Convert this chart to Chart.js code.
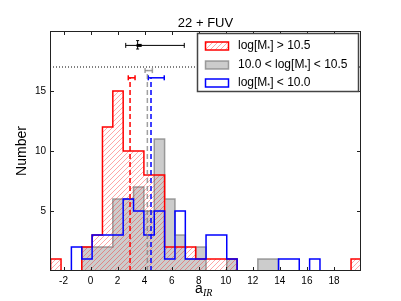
<!DOCTYPE html>
<html>
<head>
<meta charset="utf-8">
<script src="https://cdn.jsdelivr.net/npm/chart.js@4"></script>
<style>
  body { margin: 0; background: #fff; }
</style>
</head>
<body>
<canvas id="histChart" width="401" height="301"></canvas>
<script>
// histogram bins (same edges for all three samples)
const binStart = -2.95;
const binWidth = 0.766;

// counts per bin
const countsHigh = [1, 0, 0, 2, 3, 12, 15, 10, 10, 8, 8, 2, 2, 2, 1, 1, 1, 1, 0, 0, 0, 0, 0, 0, 0, 0, 0, 0, 0, 1];
const countsMid = [0, 0, 0, 2, 2, 2, 6, 6, 7, 5, 11, 6, 3, 1, 2, 0, 0, 1, 0, 0, 1, 1, 0, 0, 0, 0, 0, 0, 0, 0];
const countsLow = [0, 0, 2, 1, 3, 3, 3, 6, 5, 3, 5, 1, 5, 1, 1, 3, 3, 1, 0, 0, 0, 0, 1, 1, 0, 1, 0, 0, 0, 0];

// medians with errors: [high, mid, low]
const medians = [2.92, 4.2, 4.47];
const medianLo = [2.79, 4.03, 4.27];
const medianHi = [3.29, 4.57, 5.45];
const medianY = [16.1, 16.7, 16.1];

// black point
const refX = 3.48;
const refY = 18.8;
const refXLo = 2.6;
const refXHi = 6.93;
const refYLo = 18.5;
const refYHi = 19.2;
const refBarLo = 3.4;
const refBarHi = 3.78;

const dottedY = 17;

const xTickValues = [-2, 0, 2, 4, 6, 8, 10, 12, 14, 16, 18];
const yTickValues = [5, 10, 15];

const legendLabels = [
  ['log[M', '*', '] > 10.5'],
  ['10.0 < log[M', '*', '] < 10.5'],
  ['log[M', '*', '] < 10.0']
];

const FONT = "'Liberation Sans', Arial, sans-serif";

function stepPoints(counts) {
  const pts = [{ x: binStart, y: 0 }];
  counts.forEach((c, i) => pts.push({ x: binStart + i * binWidth, y: c }));
  const end = binStart + counts.length * binWidth;
  pts.push({ x: end, y: counts[counts.length - 1] });
  pts.push({ x: end, y: 0 });
  return pts;
}

function hatch() {
  const c = document.createElement('canvas');
  c.width = 5;
  c.height = 5;
  const g = c.getContext('2d');
  g.strokeStyle = 'rgba(255,0,0,0.35)';
  g.lineWidth = 1;
  g.beginPath();
  g.moveTo(0, 5); g.lineTo(5, 0);
  g.moveTo(-1, 1); g.lineTo(1, -1);
  g.moveTo(4, 6); g.lineTo(6, 4);
  g.stroke();
  return g.createPattern(c, 'repeat');
}
const redHatch = hatch();

const colors = ['#ff0000', 'rgba(128,128,128,0.75)', '#0000ff'];

const datasets = [];

// histograms: blue on top, then red, gray at the bottom
datasets.push({
  data: stepPoints(countsLow), stepped: 'before', borderColor: '#0000ff',
  borderWidth: 1.5, fill: false, pointRadius: 0, order: 1
});
datasets.push({
  data: stepPoints(countsHigh), stepped: 'before', borderColor: '#ff0000',
  borderWidth: 1.5, fill: 'origin', backgroundColor: redHatch, pointRadius: 0, order: 2
});
datasets.push({
  data: stepPoints(countsMid), stepped: 'before', borderColor: 'rgba(128,128,128,0.75)',
  borderWidth: 1.5, fill: 'origin', backgroundColor: 'rgba(128,128,128,0.4)', pointRadius: 0, order: 3
});

// median dashed lines and error bars
medians.forEach((m, i) => {
  datasets.push({
    data: [{ x: m, y: 0 }, { x: m, y: medianY[i] }],
    borderColor: colors[i], borderWidth: 1.5, borderDash: [5, 3],
    pointRadius: 0, fill: false, order: 0
  });
  datasets.push({
    data: [{ x: medianLo[i], y: medianY[i] }, { x: medianHi[i], y: medianY[i] }],
    borderColor: colors[i], borderWidth: 1.5, fill: false, order: 0,
    pointStyle: 'line', rotation: 90, pointRadius: 2.5,
    pointBorderColor: colors[i], pointBorderWidth: 1.5
  });
});

// black reference point
datasets.push({
  data: [{ x: refXLo, y: refY }, { x: refXHi, y: refY }],
  borderColor: '#000', borderWidth: 1, fill: false, order: 0,
  pointStyle: 'line', rotation: 90, pointRadius: 2.5,
  pointBorderColor: '#000', pointBorderWidth: 1
});
datasets.push({
  data: [{ x: refX, y: refYLo }, { x: refX, y: refYHi }],
  borderColor: '#000', borderWidth: 1, fill: false, order: 0,
  pointStyle: 'line', rotation: 0, pointRadius: 1.5,
  pointBorderColor: '#000', pointBorderWidth: 1
});
datasets.push({
  data: [{ x: refBarLo, y: refY }, { x: refBarHi, y: refY }],
  borderColor: '#000', borderWidth: 3, fill: false, order: 0, pointRadius: 0
});

// dotted line
datasets.push({
  data: [{ x: -3, y: dottedY }, { x: 20, y: dottedY }],
  borderColor: '#000', borderWidth: 1, borderDash: [1, 2],
  fill: false, pointRadius: 0, order: 0
});

function drawRich(ctx, parts, x, y, size) {
  ctx.textBaseline = 'middle';
  ctx.textAlign = 'left';
  parts.forEach((p, k) => {
    if (k === 1) {
      ctx.font = (size * 0.6) + 'px ' + FONT;
      ctx.fillText(p, x, y + 3);
    } else {
      ctx.font = size + 'px ' + FONT;
      ctx.fillText(p, x, y);
    }
    x += ctx.measureText(p).width;
  });
}

const decorPlugin = {
  id: 'decor',
  afterDatasetsDraw(chart) {
    const ctx = chart.ctx;
    const a = chart.chartArea;
    const xs = chart.scales.x;
    const ys = chart.scales.y;
    ctx.save();
    ctx.strokeStyle = '#222';
    ctx.lineWidth = 1;
    ctx.strokeRect(a.left + 0.5, a.top + 0.5, a.right - a.left - 1, a.bottom - a.top - 1);
    ctx.beginPath();
    xTickValues.forEach(v => {
      const px = Math.round(xs.getPixelForValue(v)) + 0.5;
      ctx.moveTo(px, a.bottom); ctx.lineTo(px, a.bottom - 4);
      ctx.moveTo(px, a.top); ctx.lineTo(px, a.top + 4);
    });
    yTickValues.forEach(v => {
      const py = Math.round(ys.getPixelForValue(v)) + 0.5;
      ctx.moveTo(a.left, py); ctx.lineTo(a.left + 4, py);
      ctx.moveTo(a.right, py); ctx.lineTo(a.right - 4, py);
    });
    ctx.stroke();
    ctx.restore();
  },
  afterDraw(chart) {
    const ctx = chart.ctx;
    const a = chart.chartArea;
    ctx.save();
    ctx.fillStyle = '#000';
    // title
    ctx.font = '13px ' + FONT;
    ctx.textAlign = 'center';
    ctx.textBaseline = 'alphabetic';
    ctx.fillText('22 + FUV', (a.left + a.right) / 2, 27);
    // y title
    ctx.save();
    ctx.translate(22, (a.top + a.bottom) / 2);
    ctx.rotate(-Math.PI / 2);
    ctx.font = '14px ' + FONT;
    ctx.textBaseline = 'middle';
    ctx.fillText('Number', 0, 0);
    ctx.restore();
    // x title
    ctx.font = '14px ' + FONT;
    ctx.textAlign = 'left';
    ctx.textBaseline = 'alphabetic';
    ctx.fillText('a', 195, 293);
    ctx.font = "italic 10px 'Liberation Serif', serif";
    ctx.fillText('IR', 203, 296);

    // legend
    const lx = 197.5, ly = 33.5, lw = 161, lh = 58;
    ctx.fillStyle = '#fff';
    ctx.fillRect(lx, ly, lw, lh);
    ctx.strokeStyle = '#444';
    ctx.lineWidth = 1.5;
    ctx.strokeRect(lx, ly, lw, lh);
    const rows = [46, 65, 83];
    rows.forEach((ry, i) => {
      const px = 205.5, pw = 23, ph = 8, py = ry - 4;
      if (i === 0) {
        ctx.fillStyle = redHatch;
        ctx.fillRect(px, py, pw, ph);
        ctx.strokeStyle = '#ff0000';
      } else if (i === 1) {
        ctx.fillStyle = 'rgba(128,128,128,0.4)';
        ctx.fillRect(px, py, pw, ph);
        ctx.strokeStyle = 'rgba(128,128,128,0.75)';
      } else {
        ctx.strokeStyle = '#0000ff';
      }
      ctx.lineWidth = 1.5;
      ctx.strokeRect(px, py, pw, ph);
      ctx.fillStyle = '#000';
      drawRich(ctx, legendLabels[i], 238, ry, 12);
    });
    ctx.restore();
  }
};

new Chart(document.getElementById('histChart').getContext('2d'), {
  type: 'line',
  data: { datasets },
  options: {
    responsive: false,
    animation: false,
    devicePixelRatio: 1,
    layout: { padding: { left: 0, right: 40, top: 31, bottom: 10 } },
    plugins: { legend: { display: false }, tooltip: { enabled: false }, title: { display: false } },
    scales: {
      x: {
        type: 'linear', min: -3, max: 20,
        afterBuildTicks: s => { s.ticks = xTickValues.map(v => ({ value: v })); },
        afterFit: s => { s.height = 20; },
        grid: { display: false, drawTicks: false },
        border: { display: false },
        ticks: { color: '#000', font: { size: 10, family: FONT }, padding: 4, maxRotation: 0, autoSkip: false }
      },
      y: {
        type: 'linear', min: 0, max: 20,
        afterBuildTicks: s => { s.ticks = yTickValues.map(v => ({ value: v })); },
        afterFit: s => { s.width = 50; },
        grid: { display: false, drawTicks: false },
        border: { display: false },
        ticks: { color: '#000', font: { size: 10, family: FONT }, padding: 4 }
      }
    }
  },
  plugins: [decorPlugin]
});
</script>
</body>
</html>
